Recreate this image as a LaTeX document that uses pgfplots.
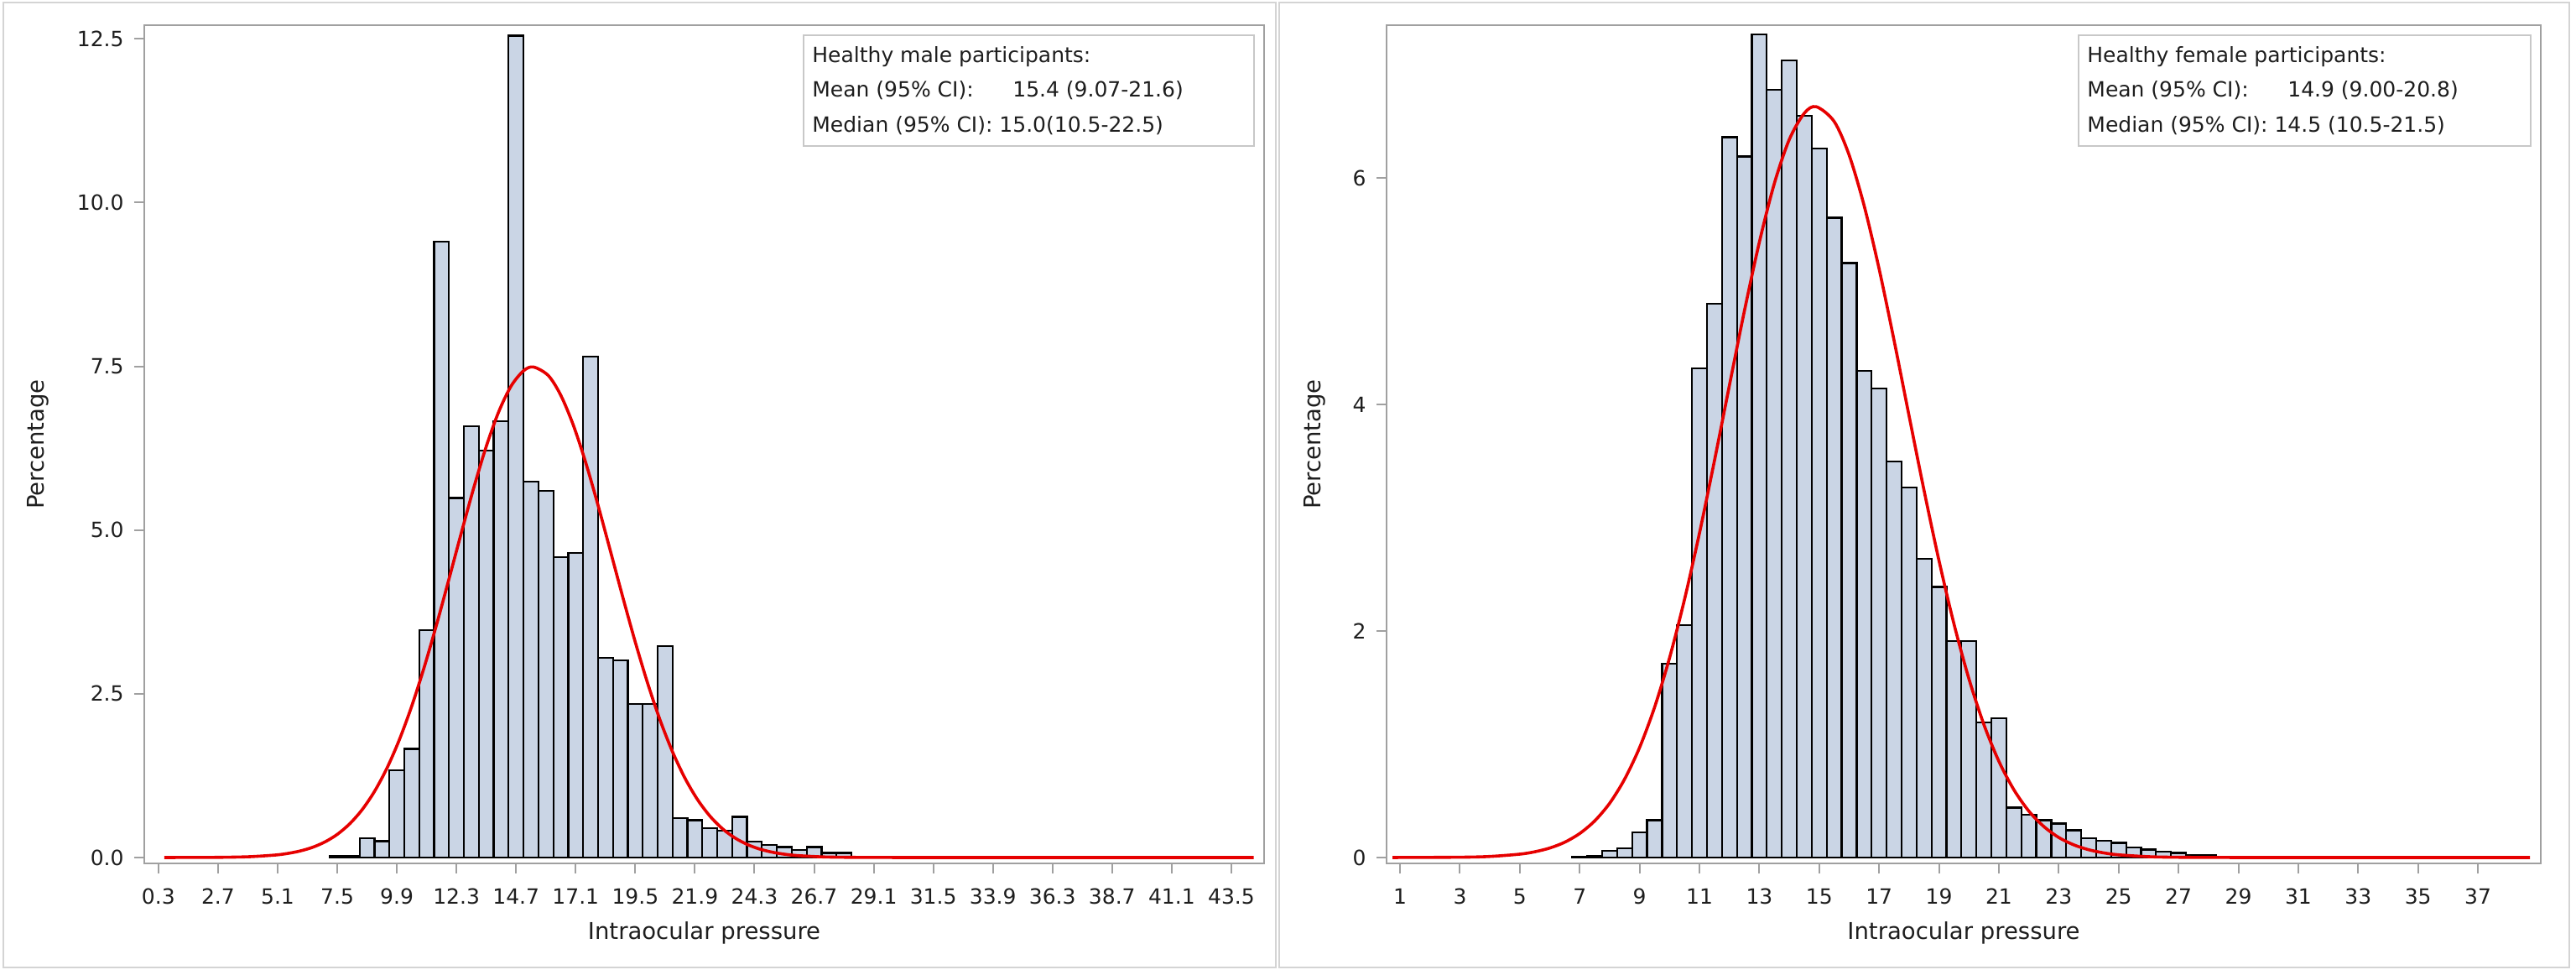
\documentclass[border=0pt]{standalone}
\usepackage{pgfplots}
\pgfplotsset{compat=1.18}
\usepackage{fontspec}
\setmainfont{DejaVu Sans}
\definecolor{barfill}{HTML}{CAD5E5}
\definecolor{fitred}{HTML}{E60000}
\definecolor{framegray}{HTML}{A0A0A0}
\definecolor{panelgray}{HTML}{D4D4D4}
\definecolor{legendgray}{HTML}{C8C8C8}
\definecolor{txt}{HTML}{1E1E1E}

\pgfplotsset{panel/.style={
  scale only axis, anchor=south west, height=499.5pt,
  axis line style={draw=framegray, line width=1.1pt},
  tick style={draw=framegray, line width=1pt},
  tick align=outside, major tick length=6pt,
  xtick pos=left, ytick pos=left,
  tick label style={font=\fontsize{12.5}{15}\selectfont, text=txt},
  yticklabel style={anchor=east, inner sep=0pt, xshift=-6pt},
  xticklabel style={anchor=north, inner sep=0pt, yshift=-9pt},
  label style={font=\fontsize{13.75}{16}\selectfont, text=txt},
  xlabel={Intraocular pressure}, ylabel={Percentage},
  xlabel style={at={(axis description cs:0.5,-0.083)}, anchor=center},
  clip=true,
}}

\begin{document}
\begin{tikzpicture}
\path[use as bounding box] (0,0) rectangle (1535.5pt,580.5pt);
\draw[panelgray, line width=1pt] (2pt,4pt) rectangle (760.5pt,579pt);
\draw[panelgray, line width=1pt] (762.5pt,4pt) rectangle (1531.5pt,579pt);

% ---------------- male ----------------
\begin{axis}[panel, at={(86pt,66pt)}, width=667.5pt,
  xmin=-0.27, xmax=44.82, ymin=-0.09, ymax=12.71,
  xtick={0.3,2.7,5.1,7.5,9.9,12.3,14.7,17.1,19.5,21.9,24.3,26.7,29.1,31.5,33.9,36.3,38.7,41.1,43.5},
  xticklabels={0.3,2.7,5.1,7.5,9.9,12.3,14.7,17.1,19.5,21.9,24.3,26.7,29.1,31.5,33.9,36.3,38.7,41.1,43.5},
  ytick={0,2.5,5,7.5,10,12.5},
  yticklabels={0.0,2.5,5.0,7.5,10.0,12.5},
  ylabel style={at={(axis description cs:-0.0951,0.5)}, anchor=center},
]
\addplot[ybar, bar width=0.6, bar shift=0pt, fill=barfill, draw=black, line width=1.1pt]
coordinates {
(7.5,0.03) (8.1,0.03) (8.7,0.29) (9.3,0.25) (9.9,1.33) (10.5,1.66) (11.1,3.47)
(11.7,9.40) (12.3,5.49) (12.9,6.59) (13.5,6.21) (14.1,6.66) (14.7,12.55) (15.3,5.74)
(15.9,5.60) (16.5,4.59) (17.1,4.65) (17.7,7.65) (18.3,3.05) (18.9,3.01) (19.5,2.34)
(20.1,2.34) (20.7,3.23) (21.3,0.60) (21.9,0.57) (22.5,0.45) (23.1,0.41) (23.7,0.62)
(24.3,0.24) (24.9,0.19) (25.5,0.16) (26.1,0.12) (26.7,0.16) (27.3,0.07) (27.9,0.07)
};
\addplot[fitred, line width=1.8pt, smooth, no markers] coordinates {
(0.54,0.0001) (2,0.0011) (3,0.0040) (4,0.0129) (5,0.0376) (5.5,0.0618) (6,0.0991)
(6.5,0.155) (7,0.237) (7.5,0.353) (8,0.514) (8.5,0.729) (9,1.009) (9.5,1.363)
(10,1.798) (10.5,2.313) (11,2.904) (11.5,3.558) (12,4.254) (12.5,4.963) (13,5.650)
(13.5,6.277) (14,6.805) (14.5,7.199) (15,7.432) (15.4,7.49) (16,7.359) (16.5,7.059)
(17,6.608) (17.5,6.036) (18,5.380) (18.5,4.679) (19,3.972) (19.5,3.290) (20,2.659)
(20.5,2.097) (21,1.614) (21.5,1.212) (22,0.888) (22.5,0.635) (23,0.443) (23.5,0.302)
(24,0.2005) (24.5,0.130) (25,0.0823) (25.5,0.0508) (26,0.0306) (27,0.0103) (28,0.0032)
(30,0.0002) (33,0) (44.4,0)
};
\end{axis}

% ---------------- female ----------------
\begin{axis}[panel, at={(826.5pt,66pt)}, width=688pt,
  xmin=0.55, xmax=39.1, ymin=-0.052, ymax=7.35,
  xtick={1,3,5,7,9,11,13,15,17,19,21,23,25,27,29,31,33,35,37},
  xticklabels={1,3,5,7,9,11,13,15,17,19,21,23,25,27,29,31,33,35,37},
  ytick={0,2,4,6},
  yticklabels={0,2,4,6},
  ylabel style={at={(axis description cs:-0.0625,0.5)}, anchor=center},
]
\addplot[ybar, bar width=0.5, bar shift=0pt, fill=barfill, draw=black, line width=1.1pt]
coordinates {
(7.0,0.01) (7.5,0.015) (8.0,0.06) (8.5,0.08) (9.0,0.22) (9.5,0.33) (10.0,1.71)
(10.5,2.05) (11.0,4.32) (11.5,4.89) (12.0,6.36) (12.5,6.19) (13.0,7.27) (13.5,6.78)
(14.0,7.04) (14.5,6.55) (15.0,6.26) (15.5,5.65) (16.0,5.25) (16.5,4.30) (17.0,4.14)
(17.5,3.50) (18.0,3.27) (18.5,2.64) (19.0,2.39) (19.5,1.91) (20.0,1.91) (20.5,1.19)
(21.0,1.23) (21.5,0.44) (22.0,0.38) (22.5,0.33) (23.0,0.30) (23.5,0.24) (24.0,0.17)
(24.5,0.15) (25.0,0.13) (25.5,0.09) (26.0,0.07) (26.5,0.05) (27.0,0.04) (27.5,0.025)
(28.0,0.025)
};
\addplot[fitred, line width=1.8pt, smooth, no markers] coordinates {
(0.75,0.0001) (3,0.0027) (4,0.0094) (5,0.0297) (5.5,0.0506) (6,0.0838) (6.5,0.135)
(7,0.212) (7.5,0.323) (8,0.479) (8.5,0.692) (9,0.971) (9.5,1.326) (10,1.762)
(10.5,2.278) (11,2.864) (11.5,3.503) (12,4.168) (12.5,4.825) (13,5.433) (13.5,5.951)
(14,6.340) (14.5,6.572) (14.9,6.63) (15.5,6.499) (16,6.202) (16.5,5.756) (17,5.198)
(17.5,4.566) (18,3.901) (18.5,3.243) (19,2.622) (19.5,2.063) (20,1.578) (20.5,1.174)
(21,0.850) (21.5,0.599) (22,0.410) (22.5,0.274) (23,0.177) (23.5,0.112) (24,0.0687)
(24.5,0.0410) (25,0.0238) (26,0.0074) (27,0.0021) (29,0.0001) (32,0) (38.74,0)
};
\end{axis}

% ---------------- inset text boxes ----------------
\draw[legendgray, line width=0.8pt, fill=white] (479pt,493.5pt) rectangle (747.5pt,559.5pt);
\node[anchor=north west, inner sep=0pt, text=txt, font=\fontsize{12.5}{20.75}\selectfont]
  at (484pt,558pt) {\begin{tabular}{@{}l@{\ }l@{}}
  \multicolumn{2}{@{}l@{}}{Healthy male participants:}\\
  Mean (95\% CI): & \ \ 15.4 (9.07-21.6)\\
  Median (95\% CI): & 15.0(10.5-22.5)
  \end{tabular}};
\draw[legendgray, line width=0.8pt, fill=white] (1239pt,493.5pt) rectangle (1508.5pt,559.5pt);
\node[anchor=north west, inner sep=0pt, text=txt, font=\fontsize{12.5}{20.75}\selectfont]
  at (1244pt,558pt) {\begin{tabular}{@{}l@{\ }l@{}}
  \multicolumn{2}{@{}l@{}}{Healthy female participants:}\\
  Mean (95\% CI): & \ \ 14.9 (9.00-20.8)\\
  Median (95\% CI): & 14.5 (10.5-21.5)
  \end{tabular}};
\end{tikzpicture}
\end{document}
